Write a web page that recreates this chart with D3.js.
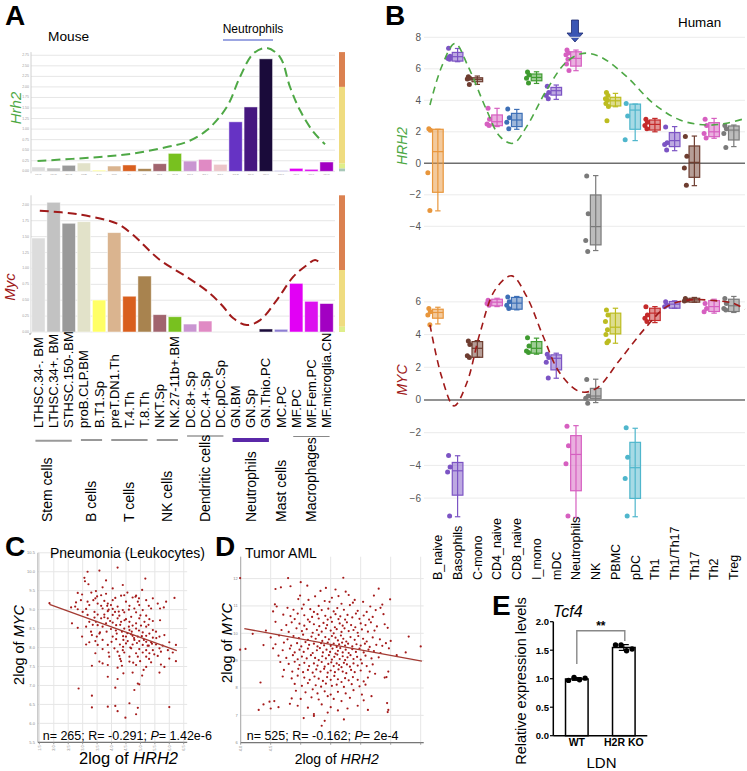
<!DOCTYPE html>
<html><head><meta charset="utf-8">
<script src="https://cdn.jsdelivr.net/npm/d3@7"></script>
<style>body{margin:0;background:#fff}svg{display:block}text{font-family:"Liberation Sans",Arial,sans-serif}</style>
</head><body>
<svg id="c" width="747" height="771"></svg>
<script>
// ---------------- DATA ----------------
const mouseCells = ["LTHSC.34-. BM","LTHSC.34+. BM","STHSC.150-.BM","proB.CLP.BM","B.T1.Sp","preT.DN1.Th","T.4.Th","T.8.Th","NKT.Sp","NK.27-11b+.BM","DC.8+.Sp","DC.4+.Sp","DC.pDC.Sp","GN.BM","GN.Sp","GN.Thio.PC","MC.PC","MF.PC","MF.Fem.PC","MF.microglia.CN"];
const hrh2Mouse = [0.41,0.31,0.57,0.79,0.1,0.5,0.6,0.25,0.72,1.7,0.97,1.13,0.66,4.69,6.1,10.66,0.06,0.28,0.19,0.88];
const mycMouse = [5.91,8.16,6.84,6.94,2.01,6.25,2.25,3.52,1.09,0.96,0.5,0.69,0,0,0,0.19,0.17,3.06,1.93,1.79];
const mouseGroups = ["Stem cells","B cells","T cells","NK cells","Dendritic cells","Neutrophils","Mast cells","Macrophages"];
const mouseGroupFirst = [0,3,5,8,10,13,16,17];
const mouseGroupLast = [2,4,7,9,12,15,16,19];
const hrh2MouseCurve = [[-0.06,0.98],[4.05,1.36],[6.25,1.68],[8.46,2.3],[9.78,2.78],[11.1,3.89],[12.42,6.09],[13.29,8.94],[14.17,11.16],[15.06,11.69],[15.93,10.83],[16.59,7.99],[17.25,5.78],[18.13,3.73],[18.9,2.56]];
const mycMouseCurve = [[0.09,7.63],[2.51,7.42],[4.71,6.98],[5.37,6.73],[6.25,6.1],[8.01,4.53],[9.78,3.47],[11.31,2.43],[12.19,1.59],[12.85,0.86],[13.74,0.44],[14.62,0.75],[15.72,2.01],[16.81,3.48],[17.7,4.21],[18.24,4.53],[18.62,4.32]];
const topStripBreaks = [11.3,8.0,0.73,0.26,0];
const botStripBreaks = [8.6,3.9,0.33,0];

const humanCats = ["B_naive","Basophils","C-mono","CD4_naive","CD8_naive","I_mono","mDC","Neutrophils","NK","PBMC","pDC","Th1","Th1/Th17","Th17","Th2","Treg"];
// [whisker low, q1, median, q3, whisker high]
const hrh2Box = [[-3.02,-1.84,0.74,2.16,2.16],[6.45,6.49,6.77,7.04,7.29],[5.01,5.18,5.33,5.43,5.54],[2.33,2.39,2.64,3.07,3.49],[2.16,2.33,2.75,3.17,3.42],[5.07,5.24,5.45,5.67,5.81],[4.06,4.33,4.61,4.82,4.97],[5.88,6.17,6.66,7.08,7.19],[-5.54,-5.18,-4.02,-2.01,-0.78],[3.59,3.64,3.97,4.19,4.44],[1.44,2.16,3.38,3.76,3.76],[2.0,2.11,2.47,2.75,2.85],[0.8,1.06,1.44,1.95,2.33],[-1.42,-0.89,0.06,1.1,1.73],[1.59,1.69,2.0,2.58,2.85],[1.06,1.48,2.11,2.37,2.43]];
const hrh2Pts = [[2.2,2.1,-0.6,-3.0],[7.3,6.8,6.7,6.6,6.65],[5.5,5.4,5.35,5.0],[3.5,2.8,2.5,2.4],[3.45,2.9,2.6,2.2],[5.8,5.6,5.4,5.1],[4.9,4.5,4.3,4.1],[7.2,7.0,6.9,6.6,6.3,5.9],[-0.8,-3.2,-4.9,-5.6],[4.5,4.3,4.1,4.0,3.8,3.6,2.7],[3.8,3.0,1.5],[2.8,2.6,2.4,2.2],[2.3,1.3,1.2,0.85],[1.7,0.45,-0.3,-1.4],[2.8,2.4,1.9,1.6],[2.4,2.2,1.9,1.0]];
const mycBox = [[4.65,5.0,5.35,5.55,5.67],[-7.14,-5.82,-4.33,-3.82,-3.41],[2.61,2.61,3.16,3.57,3.63],[5.71,5.76,5.98,6.16,6.22],[5.51,5.55,5.92,6.27,6.33],[2.8,2.86,3.16,3.57,3.78],[1.33,1.84,2.55,2.76,2.86],[-7.18,-5.55,-3.33,-2.18,-1.57],[-0.16,0.1,0.24,0.71,1.27],[3.47,4.04,4.45,5.31,5.61],[-7.14,-6.02,-4.14,-2.59,-1.73],[4.73,4.86,5.31,5.61,5.71],[5.61,5.61,5.86,6.02,6.06],[5.98,5.98,6.12,6.22,6.27],[5.31,5.41,5.71,6.08,6.16],[5.35,5.41,5.76,6.16,6.33]];
const mycPts = [[5.6,5.4,5.2,4.6],[-3.4,-4.1,-4.4,-7.1],[3.6,3.4,2.7,2.6],[6.1,6.0,5.9,5.8],[6.3,6.0,5.8,5.6],[3.8,3.3,3.0,2.9],[2.8,2.6,2.3,1.35],[-1.6,-2.8,-3.9,-7.1],[1.25,0.25,0.1,-0.2],[5.5,5.2,4.8,4.3,4.0,3.6,3.5],[-1.7,-3.5,-4.8,-7.1],[5.7,5.2,5.0,4.8],[6.0,5.8,5.7],[6.2,6.1,6.05],[5.9,5.6,5.4],[6.2,5.9,5.6,5.5]];
const hrh2HumanCurve = [[-0.4,3.7],[0.19,6.13],[0.87,7.61],[1.54,6.13],[2.47,3.38],[3.15,1.69],[3.82,1.27],[4.5,2.33],[5.51,4.65],[6.53,6.45],[7.37,6.98],[8.22,6.77],[9.57,5.5],[10.92,3.8],[12.27,2.75],[13.62,2.43],[14.63,2.54],[15.57,2.85]];
const mycHumanCurve = [[-0.4,4.59],[0.19,1.43],[0.82,-0.37],[1.46,1.02],[2.13,4.08],[2.9,6.73],[3.74,7.59],[4.5,6.33],[5.34,3.88],[6.19,1.63],[7.2,0.51],[8.04,0.71],[9.22,2.45],[10.58,4.49],[11.6,5.71],[12.78,6.12],[13.96,6.08],[14.97,5.92],[15.56,5.55]];
const hrh2Ticks = [-4,-2,0,2,4,6,8];
const mycTicks = [-6,-4,-2,0,2,4,6];

const cPoints = [[1.85,9.17],[4.21,10.11],[3.17,10.0],[3.58,10.03],[3.06,9.84],[3.08,9.75],[3.81,9.77],[5.17,9.82],[3.2,9.67],[4.39,9.65],[3.69,9.59],[4.04,9.56],[3.46,9.49],[5.06,9.52],[2.83,9.44],[2.98,9.4],[3.81,9.42],[3.64,9.38],[4.44,9.38],[4.33,9.37],[4.85,9.37],[4.73,9.32],[4.83,9.34],[6.18,9.31],[3.44,9.3],[2.94,9.25],[3.37,9.25],[4.04,9.25],[3.75,9.23],[3.17,9.21],[4.13,9.31],[5.43,9.3],[5.2,9.25],[2.77,9.19],[3.52,9.16],[3.87,9.16],[4.5,9.21],[4.91,9.21],[5.6,9.16],[5.89,9.21],[2.6,9.06],[2.74,9.08],[3.23,9.12],[3.64,9.1],[3.98,9.12],[4.21,9.08],[4.62,9.1],[4.96,9.12],[5.29,9.1],[5.81,9.06],[2.83,9.01],[3.12,9.02],[3.69,9.03],[4.04,9.02],[4.39,8.99],[4.79,9.03],[5.08,8.99],[5.37,9.03],[5.68,9.03],[3.0,8.94],[3.41,8.94],[3.87,8.96],[4.12,8.94],[4.44,8.93],[4.85,8.93],[3.17,8.86],[3.52,8.87],[3.75,8.87],[4.04,8.86],[4.27,8.84],[4.68,8.81],[5.2,8.84],[3.41,8.79],[3.64,8.77],[3.87,8.77],[4.21,8.77],[4.5,8.75],[4.96,8.77],[5.31,8.75],[2.63,8.64],[3.23,8.68],[3.46,8.68],[3.81,8.64],[4.04,8.66],[4.33,8.68],[4.62,8.68],[4.85,8.64],[5.14,8.68],[5.43,8.7],[5.68,8.72],[3.52,8.59],[4.16,8.59],[4.73,8.58],[5.02,8.58],[5.2,8.55],[2.83,8.52],[3.12,8.55],[3.69,8.55],[3.98,8.49],[4.44,8.5],[4.62,8.46],[4.85,8.5],[5.43,8.46],[3.29,8.42],[3.58,8.37],[3.83,8.42],[4.18,8.37],[4.36,8.42],[4.68,8.35],[5.08,8.4],[5.31,8.37],[5.54,8.42],[5.83,8.33],[2.98,8.29],[3.32,8.33],[3.49,8.29],[4.04,8.29],[4.5,8.29],[4.73,8.31],[4.91,8.29],[5.2,8.31],[5.43,8.26],[5.66,8.29],[3.23,8.14],[3.44,8.17],[3.69,8.2],[4.16,8.22],[4.41,8.2],[4.56,8.17],[4.79,8.2],[4.96,8.17],[5.2,8.15],[5.37,8.14],[6.0,8.14],[3.12,8.08],[3.52,8.07],[3.87,8.07],[4.29,8.08],[4.5,8.11],[4.73,8.08],[5.08,8.07],[5.29,8.05],[5.54,8.08],[5.77,8.05],[6.23,8.07],[3.69,7.96],[4.1,7.98],[4.39,7.93],[4.68,7.98],[4.96,7.96],[5.2,7.93],[5.43,7.93],[5.66,7.98],[5.95,7.93],[3.44,7.85],[3.9,7.87],[4.21,7.89],[4.44,7.87],[4.85,7.85],[5.08,7.87],[5.31,7.85],[5.48,7.82],[5.71,7.89],[6.12,7.87],[3.92,7.76],[4.27,7.78],[4.62,7.76],[4.91,7.76],[5.2,7.76],[5.6,7.78],[6.0,7.71],[3.58,7.63],[3.69,7.58],[4.33,7.64],[4.62,7.63],[4.99,7.64],[5.37,7.61],[6.23,7.64],[3.32,7.52],[3.87,7.54],[4.21,7.47],[4.36,7.52],[4.85,7.54],[5.2,7.49],[5.71,7.55],[5.83,7.49],[5.11,7.41],[4.41,7.32],[4.73,7.34],[5.66,7.34],[3.87,7.23],[4.21,7.17],[5.06,7.26],[4.91,7.05],[4.96,7.03],[2.86,6.92],[4.13,6.94],[4.79,6.88],[3.32,6.73],[4.13,6.46],[3.32,6.42],[3.87,6.44],[4.62,6.53],[4.91,6.41],[6.0,6.43],[4.21,6.32],[4.48,6.15],[4.85,6.24],[4.3,8.6],[4.45,8.72],[4.6,8.55],[4.7,8.42],[4.95,8.45],[5.05,8.3],[4.4,8.3],[4.55,8.38],[4.78,8.25],[4.88,8.12],[5.12,8.2],[5.25,8.05],[4.65,8.0],[4.4,8.02],[4.15,8.45],[3.95,8.7],[3.75,8.8],[3.9,9.0],[4.25,8.95],[4.6,9.0],[5.0,8.85],[5.28,8.6],[5.55,8.25],[5.4,8.1],[3.6,8.4],[3.35,8.6],[4.0,8.15],[4.3,7.7],[4.75,7.6],[5.3,7.7],[3.5,9.35],[3.3,9.45],[4.55,9.45],[4.95,9.3],[3.85,9.1]];
const cFitX = [1.85,6.26], cFitY = [9.14,7.92];
const cXTicks = [1.5,2.0,2.5,3.0,3.5,4.0,4.5,5.0,5.5,6.0,6.5];
const cYTicks = [5.5,6.0,6.5,7.0,7.5,8.0,8.5,9.0,9.5,10.0,10.5];

const dPoints = [[3.99,12.02],[4.79,12.02],[5.71,12.03],[5.0,11.87],[4.83,11.72],[4.67,11.68],[4.58,11.62],[5.11,11.74],[5.42,11.66],[5.58,11.6],[5.33,11.55],[5.75,11.52],[6.3,11.63],
[4.99,11.38],[5.24,11.35],[5.52,11.3],[5.63,11.36],[5.8,11.4],[6.22,11.38],[5.9,11.22],[4.57,11.06],[4.96,11.25],[5.13,11.22],[5.4,11.18],[5.48,11.15],[5.87,11.12],[6.04,11.15],[6.49,11.24],[4.6,10.98],[4.78,10.93],[5.05,11.05],[5.3,11.0],[5.68,11.08],[5.82,11.03],[6.16,10.98],[6.33,10.93],[6.36,11.05],
[4.54,10.8],[4.88,10.86],[5.02,10.9],[5.16,10.88],[5.22,10.78],[5.35,10.85],[5.46,10.9],[5.55,10.8],[5.61,10.92],[5.72,10.86],[5.95,10.82],[6.1,10.78],[6.25,10.85],[4.71,10.68],[4.83,10.63],[4.95,10.72],[5.06,10.66],[5.19,10.6],[5.28,10.7],[5.41,10.64],[5.5,10.58],[5.58,10.7],[5.66,10.62],[5.78,10.67],[5.86,10.58],[5.92,10.72],[6.05,10.65],[6.2,10.6],[6.38,10.7],[4.9,10.52],[5.12,10.5],[5.3,10.54],[5.45,10.5],[5.63,10.52],[5.74,10.5],[5.98,10.53],[6.14,10.5],
[4.58,10.42],[4.76,10.3],[4.85,10.4],[4.98,10.35],[5.06,10.28],[5.15,10.42],[5.22,10.33],[5.31,10.26],[5.38,10.38],[5.44,10.3],[5.52,10.42],[5.57,10.22],[5.65,10.36],[5.7,10.28],[5.77,10.4],[5.84,10.3],[5.91,10.22],[6.0,10.36],[6.08,10.3],[6.17,10.4],[6.27,10.25],[6.4,10.33],[4.68,10.12],[4.8,10.05],[4.93,10.18],[5.02,10.08],[5.1,10.15],[5.2,10.02],[5.27,10.12],[5.35,10.06],[5.42,10.18],[5.5,10.1],[5.55,10.0],[5.6,10.15],[5.68,10.05],[5.73,10.18],[5.8,10.08],[5.88,10.12],[5.95,10.02],[6.02,10.14],[6.12,10.06],[6.23,10.1],[6.45,10.2],[4.42,10.1],[4.2,9.98],
[4.5,9.85],[4.64,9.92],[4.78,9.78],[4.88,9.9],[4.97,9.82],[5.04,9.95],[5.12,9.76],[5.18,9.88],[5.25,9.8],[5.3,9.94],[5.36,9.72],[5.41,9.86],[5.47,9.78],[5.52,9.9],[5.58,9.84],[5.62,9.74],[5.67,9.92],[5.71,9.8],[5.76,9.7],[5.83,9.86],[5.9,9.76],[5.96,9.9],[6.04,9.8],[6.1,9.7],[6.2,9.85],[6.32,9.78],[6.5,9.72],[6.8,9.88],[4.58,9.6],[4.72,9.66],[4.84,9.55],[4.94,9.64],[5.01,9.52],[5.08,9.68],[5.14,9.58],[5.22,9.62],[5.28,9.52],[5.34,9.64],[5.39,9.56],[5.45,9.66],[5.5,9.54],[5.55,9.62],[5.6,9.5],[5.64,9.6],[5.69,9.66],[5.74,9.55],[5.79,9.62],[5.86,9.52],[5.93,9.6],[6.0,9.55],[6.07,9.62],[6.15,9.5],[6.26,9.58],[6.36,9.54],[6.42,9.64],[4.38,9.57],[4.08,9.43],
[4.54,9.45],[4.7,9.38],[4.82,9.44],[4.9,9.3],[4.98,9.4],[5.05,9.32],[5.12,9.44],[5.2,9.28],[5.27,9.38],[5.32,9.46],[5.37,9.3],[5.43,9.4],[5.49,9.32],[5.53,9.44],[5.58,9.26],[5.62,9.36],[5.66,9.46],[5.7,9.3],[5.75,9.4],[5.8,9.28],[5.86,9.42],[5.92,9.32],[5.98,9.44],[6.05,9.3],[6.13,9.4],[6.22,9.35],[6.33,9.28],[6.47,9.45],[6.6,9.2],[4.63,9.18],[4.76,9.1],[4.87,9.2],[4.95,9.05],[5.02,9.15],[5.1,9.08],[5.17,9.2],[5.24,9.1],[5.3,9.02],[5.36,9.16],[5.42,9.08],[5.47,9.2],[5.52,9.04],[5.56,9.14],[5.61,9.22],[5.65,9.06],[5.7,9.16],[5.74,9.02],[5.78,9.12],[5.83,9.2],[5.88,9.06],[5.94,9.14],[6.0,9.04],[6.08,9.18],[6.18,9.08],[6.3,9.12],
[4.66,8.95],[4.8,8.88],[4.9,8.96],[4.98,8.84],[5.06,8.92],[5.14,8.8],[5.22,8.9],[5.28,8.82],[5.35,8.95],[5.4,8.78],[5.46,8.88],[5.51,8.94],[5.55,8.8],[5.6,8.9],[5.64,8.84],[5.68,8.76],[5.72,8.92],[5.77,8.86],[5.82,8.78],[5.88,8.9],[5.95,8.82],[6.02,8.9],[6.1,8.8],[6.2,8.86],[4.72,8.66],[4.86,8.6],[4.96,8.7],[5.04,8.58],[5.12,8.66],[5.2,8.56],[5.26,8.68],[5.33,8.6],[5.39,8.7],[5.45,8.56],[5.5,8.64],[5.57,8.58],[5.63,8.68],[5.7,8.6],[5.76,8.54],[5.84,8.66],[5.9,8.58],[6.0,8.64],[6.15,8.6],[6.43,8.4],[6.24,8.52],
[4.7,8.42],[4.85,8.35],[4.95,8.45],[5.06,8.38],[5.15,8.3],[5.23,8.42],[5.3,8.34],[5.37,8.26],[5.44,8.4],[5.5,8.3],[5.56,8.44],[5.62,8.32],[5.68,8.22],[5.74,8.36],[5.8,8.28],[5.87,8.4],[5.95,8.3],[6.05,8.24],[6.12,8.38],[4.9,8.15],[5.02,8.08],[5.12,8.18],[5.25,8.1],[5.34,8.05],[5.42,8.16],[5.52,8.08],[5.6,8.12],[5.72,8.04],[5.85,8.14],[5.98,8.06],[6.08,8.12],[6.4,8.38],[4.33,8.2],
[4.92,7.9],[5.08,7.84],[5.2,7.95],[5.28,7.8],[5.4,7.88],[5.5,7.76],[5.62,7.86],[5.75,7.8],[5.88,7.92],[6.02,7.76],[4.85,7.62],[5.0,7.6],[5.18,7.66],[5.3,7.58],[5.45,7.7],[5.55,7.6],[5.68,7.52],[5.82,7.64],[6.05,7.55],[6.18,7.7],[4.48,7.5],[4.56,7.52],[4.38,7.4],
[4.63,7.3],[4.82,7.42],[4.95,7.35],[5.12,7.28],[5.35,7.4],[5.5,7.3],[5.62,7.18],[5.78,7.25],[5.95,7.35],[6.12,7.2],[6.45,7.12],[4.5,7.25],[4.3,7.2],[5.22,7.05],[5.45,7.1],
[5.05,6.9],[5.4,6.8],[5.35,6.62],[5.72,6.85],[5.22,6.98],[3.99,9.4],[7.0,9.52],[6.75,9.3],[6.46,8.6],[6.44,7.45],[6.46,7.2]];
const dFitX = [4.06,7.02], dFitY = [10.17,8.98];
const dXTicks = [4.0,4.5,5.0,5.5,6.0,6.5,7.0];
const dXLabels = [4.0,4.5];
const dYTicks = [6,7,8,9,10,11,12];

const tcf4Groups = ["WT","H2R KO"];
const tcf4Values = [[0.97,1.02,0.98,1.01],[1.59,1.59,1.49,1.52]];
const tcf4Ticks = [0,0.5,1.0,1.5,2.0];

// ---------------- STYLE ----------------
const mouseColors = ["#dcdcdc","#c2c2c2","#9a9a9a","#e2e2c9","#ffff66","#dab48f","#d95f1e","#a8834f","#a1646e","#78c11f","#c995d1","#e08ac4","#ecc5c9","#6633c4","#46177f","#1a0b3a","#8d7ed2","#e200f5","#dc10ef","#a200c2"];
const topStripColors = ["#db8150","#efdc80","#dfee8a","#a8c8b8"];
const botStripColors = ["#db8150","#efdc80","#dfee8a"];
const humanColors = ["#e8963c","#7c54c4","#6e3d30","#d65fc0","#3d6fb6","#3f9b30","#7c54c4","#d65fc0","#7a7a7a","#bcbc20","#4fb6cc","#c42a2a","#7c54c4","#6e3d30","#d65fc0","#7a7a7a"];
const GREEN = "#4ea845", DRED = "#a01a1a";

const svg = d3.select("#c");
function T(x,y,s,o={}) {
  const t = svg.append("text").attr("x",x).attr("y",y).text(s);
  for (const k in o) t.attr(k,o[k]);
  return t;
}
function rotT(x,y,s,size,anchor,extra={}) {
  const t = svg.append("text").attr("transform",`translate(${x},${y}) rotate(-90)`)
    .attr("text-anchor",anchor).attr("dy","0.35em").attr("font-size",size).text(s);
  for (const k in extra) t.attr(k,extra[k]);
  return t;
}

// panel letters
[["A",5,25],["B",385,25],["C",5,556],["D",215,556],["E",492,615]].forEach(d=>T(d[1],d[2],d[0],{"font-size":28,"font-weight":"bold"}));

// ---------------- PANEL A ----------------
const xA = d3.scaleBand().domain(d3.range(20)).range([31,334]).paddingInner(0.12).paddingOuter(0.05);
const bwA = xA.bandwidth();
const cA = d3.scaleLinear().domain([0,19]).range([xA(0)+bwA/2, xA(19)+bwA/2]);
const yTop = d3.scaleLinear().domain([0,11.3]).range([171.3,52.1]);
const yBot = d3.scaleLinear().domain([0,8.6]).range([332,195.3]);

T(48,41,"Mouse",{"font-size":13.7});
T(253,33,"Neutrophils",{"font-size":12,"text-anchor":"middle"});
svg.append("line").attr("x1",223).attr("x2",273).attr("y1",40).attr("y2",40).attr("stroke","#7b88d8").attr("stroke-width",1.5);

function mouseChart(y, vals, curve, curveColor, ticks, stripBreaks, stripColors, tickLabels) {
  const g = svg.append("g");
  g.selectAll(".gl").data(ticks).join("line").attr("x1",31).attr("x2",335)
    .attr("y1",d=>y(d)).attr("y2",d=>y(d)).attr("stroke","#e6e6e6").attr("stroke-width",1);
  g.append("line").attr("x1",31).attr("x2",31).attr("y1",y.range()[1]).attr("y2",y.range()[0]+2).attr("stroke","#d0d0d0");
  g.selectAll(".tl").data(ticks).join("text").attr("x",29).attr("y",d=>y(d)+1).attr("text-anchor","end")
    .attr("font-size",3.5).attr("fill","#999").text(d=>d3.format(".2f")(d/4));
  g.selectAll(".bar").data(vals).join("rect").attr("x",(d,i)=>xA(i)).attr("width",bwA)
    .attr("y",d=>y(d)).attr("height",d=>y(0)-y(d)).attr("fill",(d,i)=>mouseColors[i])
    .attr("stroke","rgba(255,255,255,0.6)").attr("stroke-width",0.8);
  if (tickLabels) g.selectAll(".xl").data(mouseCells).join("text").attr("x",(d,i)=>cA(i)).attr("y",y(0)+4)
    .attr("text-anchor","middle").attr("font-size",2.5).attr("fill","#999").text(d=>d.slice(0,4));
  for (let i=0;i<stripColors.length;i++) {
    g.append("rect").attr("x",339).attr("width",6).attr("y",y(stripBreaks[i])).attr("height",y(stripBreaks[i+1])-y(stripBreaks[i]))
      .attr("fill",stripColors[i]);
  }
  g.append("path").datum(curve).attr("fill","none").attr("stroke",curveColor).attr("stroke-width",2)
    .attr("stroke-dasharray","9,5")
    .attr("d",d3.line().x(d=>cA(d[0])).y(d=>y(d[1])).curve(d3.curveCatmullRom.alpha(0.5)));
}
mouseChart(yTop, hrh2Mouse, hrh2MouseCurve, GREEN, d3.range(0,12), topStripBreaks, topStripColors, true);
mouseChart(yBot, mycMouse, mycMouseCurve, DRED, d3.range(0,9), botStripBreaks, botStripColors, false);
// small tick under lower chart axis
svg.append("line").attr("x1",29).attr("x2",31).attr("y1",334).attr("y2",334).attr("stroke","#999");

rotT(16,108,"Hrh2",15,"middle",{"font-style":"italic","fill":GREEN});
rotT(10,287,"Myc",15,"middle",{"font-style":"italic","fill":DRED});

mouseCells.forEach((c,i)=>rotT(cA(i),428,c,13,"start"));

const groupLineStyle = [["#9a9a9a",2,440.7],["#333",1,440],["#333",1,440],["#333",1,440],["#999",1.5,436],["#5a28a8",4,440],null,["#888",1,436.5]];
mouseGroups.forEach((gname,k)=>{
  const f = mouseGroupFirst[k], l = mouseGroupLast[k];
  const st = groupLineStyle[k];
  if (st) svg.append("line").attr("x1",cA(f)-3).attr("x2",cA(l)+3).attr("y1",st[2]).attr("y2",st[2])
    .attr("stroke",st[0]).attr("stroke-width",st[1]);
  const cx = k===0 ? cA(f)+ (cA(l)-cA(f))*0.3 : (cA(f)+cA(l))/2;
  rotT(cx,522,gname,14,"start");
});

// ---------------- PANEL B ----------------
const xB = d3.scaleBand().domain(humanCats).range([428,743.7]).paddingInner(0.46).paddingOuter(0.23);
const bwB = xB.bandwidth();
const cB = d3.scaleLinear().domain([0,15]).range([xB(humanCats[0])+bwB/2, xB(humanCats[15])+bwB/2]);
const yH = d3.scaleLinear().domain([-6,8.4]).range([257.8,31]);
const yM = d3.scaleLinear().domain([-7.4,7]).range([521,285.5]);

T(678,27,"Human",{"font-size":13.4});
// arrow above Neutrophils
(function(){
  const ax = cB(7)-1;
  const p = `M${ax-3.5},20 L${ax+3.5},20 L${ax+3.5},33 L${ax+8},33 L${ax},42 L${ax-8},33 L${ax-3.5},33 Z`;
  svg.append("path").attr("d",p).attr("fill","#3a56b4").attr("stroke","#1c2a6e").attr("stroke-width",0.8);
})();

function humanChart(y, ticks, boxes, pts, curve, curveColor) {
  const g = svg.append("g");
  g.selectAll(".gl").data(ticks.filter(t=>t!==0)).join("line").attr("x1",424).attr("x2",745)
    .attr("y1",d=>y(d)).attr("y2",d=>y(d)).attr("stroke","#ebebeb").attr("stroke-width",1);
  g.append("line").attr("x1",424).attr("x2",745).attr("y1",y(0)).attr("y2",y(0)).attr("stroke","#6e6e6e").attr("stroke-width",1.4);
  g.selectAll(".tl").data(ticks).join("text").attr("x",421).attr("y",d=>y(d)).attr("dy","0.35em")
    .attr("text-anchor","end").attr("font-size",10).attr("fill","#555").text(d=>d3.format("")(d));
  boxes.forEach((b,i)=>{
    const cx = cB(i), col = humanColors[i], hw = bwB/2;
    g.append("line").attr("x1",cx).attr("x2",cx).attr("y1",y(b[0])).attr("y2",y(b[4])).attr("stroke",col).attr("stroke-width",1.2);
    [b[0],b[4]].forEach(v=>g.append("line").attr("x1",cx-2.7).attr("x2",cx+2.7).attr("y1",y(v)).attr("y2",y(v)).attr("stroke",col).attr("stroke-width",1.2));
    g.append("rect").attr("x",cx-hw).attr("width",bwB).attr("y",y(b[3])).attr("height",Math.max(1,y(b[1])-y(b[3])))
      .attr("fill",col).attr("fill-opacity",0.5).attr("stroke",col).attr("stroke-width",1.2);
    g.append("line").attr("x1",cx-hw).attr("x2",cx+hw).attr("y1",y(b[2])).attr("y2",y(b[2])).attr("stroke",col).attr("stroke-width",1.2);
    const offs = [-9,-7.5,-10,-8,-9.5,-7,-8.5];
    g.selectAll(null).data(pts[i]).join("circle").attr("cx",(d,j)=>cx+offs[j%offs.length]).attr("cy",d=>y(d))
      .attr("r",2.5).attr("fill",col);
  });
  g.append("path").datum(curve).attr("fill","none").attr("stroke",curveColor).attr("stroke-width",1.6)
    .attr("stroke-dasharray","7,5")
    .attr("d",d3.line().x(d=>cB(d[0])).y(d=>y(d[1])).curve(d3.curveCatmullRom.alpha(0.5)));
}
humanChart(yH, hrh2Ticks, hrh2Box, hrh2Pts, hrh2HumanCurve, GREEN);
humanChart(yM, mycTicks, mycBox, mycPts, mycHumanCurve, DRED);
rotT(402,146,"HRH2",14,"middle",{"font-style":"italic","fill":GREEN});
rotT(402,380,"MYC",14,"middle",{"font-style":"italic","fill":DRED});
humanCats.forEach((c,i)=>rotT(cB(i),580,c,12.5,"start"));

// ---------------- PANEL C & D ----------------
function scatter(xs, ys, xt, yt, xLabs, pts, fitX, fitY, yLabFmt) {
  const g = svg.append("g");
  const [x0,x1] = xs.range(), [y0,y1] = ys.range();
  g.selectAll(".vx").data(xt).join("line").attr("x1",d=>xs(d)).attr("x2",d=>xs(d)).attr("y1",y1).attr("y2",y0).attr("stroke","#e6e6e6");
  g.selectAll(".hy").data(yt).join("line").attr("x1",x0).attr("x2",x1).attr("y1",d=>ys(d)).attr("y2",d=>ys(d)).attr("stroke","#e6e6e6");
  g.append("line").attr("x1",x0).attr("x2",x0).attr("y1",y1).attr("y2",y0).attr("stroke","#aaa");
  g.append("line").attr("x1",x0).attr("x2",x1).attr("y1",y0).attr("y2",y0).attr("stroke","#777").attr("stroke-width",1.2);
  g.selectAll(".yl").data(yt).join("text").attr("x",x0-3).attr("y",d=>ys(d)).attr("dy","0.35em").attr("text-anchor","end")
    .attr("font-size",4).attr("fill","#888").text(yLabFmt);
  g.selectAll(".xl").data(xLabs).join("text").attr("transform",d=>`translate(${xs(d)},${y0+3}) rotate(-90)`)
    .attr("text-anchor","end").attr("dy","0.35em").attr("font-size",4).attr("fill","#888").text(d3.format(".1f"));
  g.selectAll(".xtk").data(xt).join("line").attr("x1",d=>xs(d)).attr("x2",d=>xs(d)).attr("y1",y0).attr("y2",y0+2).attr("stroke","#999");
  g.selectAll(".pt").data(pts).join("circle").attr("cx",d=>xs(d[0])).attr("cy",d=>ys(d[1])).attr("r",1.1).attr("fill","#a51a1a");
  g.append("line").attr("x1",xs(fitX[0])).attr("x2",xs(fitX[1])).attr("y1",ys(fitY[0])).attr("y2",ys(fitY[1]))
    .attr("stroke","#a33a32").attr("stroke-width",1.3);
}
const xC = d3.scaleLinear().domain([1.45,6.62]).range([37.9,187.2]);
const yC = d3.scaleLinear().domain([5.5,10.5]).range([742.3,552.8]);
scatter(xC,yC,cXTicks,cYTicks,cXTicks,cPoints,cFitX,cFitY,d3.format(".1f"));
const xD = d3.scaleLinear().domain([4.0,7.05]).range([240.7,423.7]);
const yD = d3.scaleLinear().domain([6,12.8]).range([742.7,556.7]);
scatter(xD,yD,dXTicks,dYTicks,dXLabels,dPoints,dFitX,dFitY,d3.format("d"));

T(50,558,"Pneumonia (Leukocytes)",{"font-size":14});
T(245,558,"Tumor AML",{"font-size":14});
function statText(x,y,pre,post){
  const t = T(x,y,"",{"font-size":12.5});
  t.append("tspan").text(pre);
  t.append("tspan").attr("font-style","italic").text("P");
  t.append("tspan").text(post);
}
statText(42.7,739.5,"n= 265; R= -0.291; ","= 1.42e-6");
statText(246.7,739.5,"n= 525; R= -0.162; ","= 2e-4");
function axLabel(x,y,size,rot,gene){
  const t = svg.append("text").attr("transform",`translate(${x},${y})${rot?" rotate(-90)":""}`)
    .attr("text-anchor","middle").attr("font-size",size);
  t.append("tspan").text("2log of ");
  t.append("tspan").attr("font-style","italic").text(gene);
}
axLabel(128.5,764,16.5,false,"HRH2");
axLabel(336.7,764,14,false,"HRH2");
axLabel(24,645,14.5,true,"MYC");
axLabel(232,643,14.5,true,"MYC");

// ---------------- PANEL E ----------------
const xE = d3.scaleBand().domain(tcf4Groups).range([553.3,647.3]).paddingInner(0.52).paddingOuter(0.26);
const yE = d3.scaleLinear().domain([0,2]).range([735.7,621.7]);
const gE = svg.append("g");
gE.append("line").attr("x1",553.3).attr("x2",553.3).attr("y1",yE(2)).attr("y2",yE(0)).attr("stroke","#000").attr("stroke-width",1.5);
gE.append("line").attr("x1",553.3).attr("x2",647.3).attr("y1",yE(0)).attr("y2",yE(0)).attr("stroke","#000").attr("stroke-width",1.5);
gE.selectAll(".tk").data(tcf4Ticks).join("line").attr("x1",550).attr("x2",553.3).attr("y1",d=>yE(d)).attr("y2",d=>yE(d)).attr("stroke","#000").attr("stroke-width",1.2);
gE.selectAll(".tl").data(tcf4Ticks).join("text").attr("x",549).attr("y",d=>yE(d)).attr("dy","0.35em")
  .attr("text-anchor","end").attr("font-size",9.5).attr("font-weight","bold").text(d3.format(".1f"));
tcf4Groups.forEach((gname,i)=>{
  const vals = tcf4Values[i], m = d3.mean(vals), sd = d3.deviation(vals);
  const x0 = xE(gname), bw = xE.bandwidth(), cx = x0+bw/2;
  gE.append("rect").attr("x",x0).attr("width",bw).attr("y",yE(m)).attr("height",yE(0)-yE(m))
    .attr("fill","#fff").attr("stroke","#000").attr("stroke-width",1.5);
  gE.append("line").attr("x1",cx).attr("x2",cx).attr("y1",yE(m+sd)).attr("y2",yE(m-sd)).attr("stroke","#000").attr("stroke-width",1.2);
  [m+sd,m-sd].forEach(v=>gE.append("line").attr("x1",cx-5).attr("x2",cx+5).attr("y1",yE(v)).attr("y2",yE(v)).attr("stroke","#000").attr("stroke-width",1.2));
  gE.selectAll(null).data(vals).join("circle").attr("cx",(d,j)=>x0+3+j*(bw-6)/(vals.length-1)).attr("cy",d=>yE(d))
    .attr("r",2.7).attr("fill","#000");
  T(cx,746,gname,{"font-size":10.5,"font-weight":"bold","text-anchor":"middle"});
});
(function(){
  const xa = xE("WT")+xE.bandwidth()/2, xb = xE("H2R KO")+xE.bandwidth()/2+1, yb = yE(1.84);
  gE.append("path").attr("d",`M${xa},${yE(1.26)} L${xa},${yb} L${xb},${yb} L${xb},${yE(1.66)}`)
    .attr("fill","none").attr("stroke","#888").attr("stroke-width",1.4);
  T((xa+xb)/2,yb-1,"**",{"font-size":12,"font-weight":"bold","text-anchor":"middle"});
})();
T(553,617,"Tcf4",{"font-size":16,"font-style":"italic"});
T(601.5,768,"LDN",{"font-size":15,"text-anchor":"middle"});
svg.append("text").attr("transform","translate(521,681) rotate(-90)").attr("text-anchor","middle").attr("dy","0.35em")
  .attr("font-size",14.5).text("Relative expression levels");
</script>
</body></html>
